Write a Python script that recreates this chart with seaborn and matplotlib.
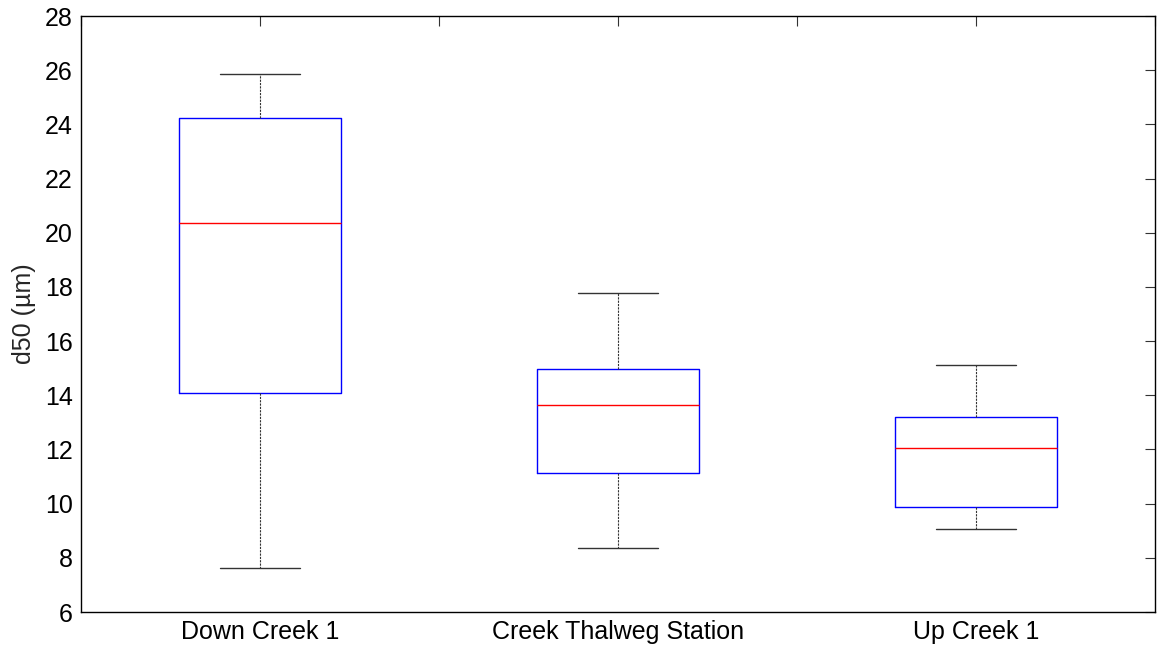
import numpy as np
import pandas as pd
import matplotlib
matplotlib.use("Agg")
import matplotlib.pyplot as plt
import seaborn as sns

# Station names and the five-number summary of d50 at each station
stations = ["Down Creek 1", "Creek Thalweg Station", "Up Creek 1"]
d50_min = [7.63, 8.37, 9.06]
d50_q1 = [14.10, 11.12, 9.88]
d50_median = [20.35, 13.64, 12.05]
d50_q3 = [24.22, 14.98, 13.19]
d50_max = [25.86, 17.76, 15.13]

y_ticks = [6, 8, 10, 12, 14, 16, 18, 20, 22, 24, 26, 28]

# Long-form table: the five summary values per station reproduce the
# quartiles exactly under linear percentile interpolation.
rows = []
for i, name in enumerate(stations):
    for v in (d50_min[i], d50_q1[i], d50_median[i], d50_q3[i], d50_max[i]):
        rows.append({"station": name, "d50": v})
df = pd.DataFrame(rows)

sns.set_style("white")
plt.rcParams["font.family"] = ["Liberation Sans", "DejaVu Sans"]

fig = plt.figure(figsize=(11.57, 6.46), dpi=100)
ax = fig.add_axes([0.070, 0.0526, 0.9283, 0.9226])

sns.boxplot(
    data=df, x="station", y="d50", order=stations, ax=ax,
    width=0.45, whis=np.inf, showfliers=False, fill=False,
    boxprops=dict(color="#0000ff", linewidth=1.0),
    medianprops=dict(color="#ff0000", linewidth=1.0),
    whiskerprops=dict(color="#333333", linewidth=0.8, linestyle=(0, (2, 1))),
    capprops=dict(color="#333333", linewidth=1.0),
)

ax.set_xlim(-0.5, 2.5)
ax.set_ylim(6, 28)
ax.set_yticks(y_ticks)
ax.set_yticklabels([str(t) for t in y_ticks])

# Tick marks every half step, labels only under the stations
xt = np.arange(-0.5, 2.51, 0.5)
ax.set_xticks(xt)
ax.set_xticklabels([stations[int(t)] if float(t).is_integer() else "" for t in xt])

ax.tick_params(axis="both", direction="in", length=7, width=0.8, color="#333333",
               labelsize=18, labelcolor="black", top=True, right=True, pad=6)
ax.tick_params(axis="x", pad=6)

ax.set_xlabel("")
ax.set_ylabel("d50 (µm)", fontsize=18, labelpad=6)

for s in ax.spines.values():
    s.set_visible(True)
    s.set_color("black")
    s.set_linewidth(1.0)

fig.savefig("out.png", dpi=100, facecolor="white")
